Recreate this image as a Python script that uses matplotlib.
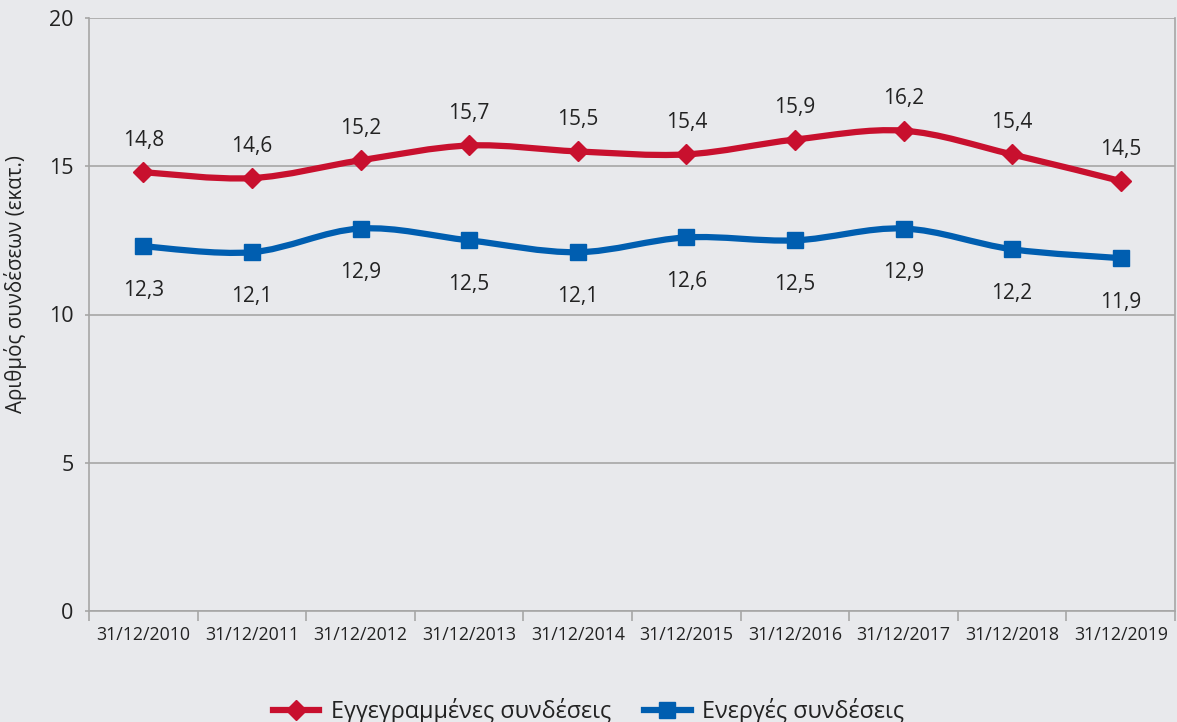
import numpy as np
import matplotlib.pyplot as plt
from matplotlib.path import Path
from matplotlib.patches import PathPatch
from matplotlib.lines import Line2D

plt.rcParams['font.family'] = ['Open Sans', 'DejaVu Sans']

dates = ['31/12/2010', '31/12/2011', '31/12/2012', '31/12/2013', '31/12/2014',
         '31/12/2015', '31/12/2016', '31/12/2017', '31/12/2018', '31/12/2019']
registered = [14.8, 14.6, 15.2, 15.7, 15.5, 15.4, 15.9, 16.2, 15.4, 14.5]
active = [12.3, 12.1, 12.9, 12.5, 12.1, 12.6, 12.5, 12.9, 12.2, 11.9]

red = '#C8102E'
blue = '#005EB0'
bg = '#E8E9EC'
grid = '#A6A6A6'
txt = '#222222'


def smooth_path(x, y, t=1/6):
    # excel-like smoothed line: bezier segments through the points
    x = np.asarray(x, float)
    y = np.asarray(y, float)
    verts = [(x[0], y[0])]
    codes = [Path.MOVETO]
    n = len(x)
    for i in range(n - 1):
        p0 = i - 1 if i > 0 else i
        p3 = i + 2 if i + 2 < n else i + 1
        c1 = (x[i] + (x[i + 1] - x[p0]) * t, y[i] + (y[i + 1] - y[p0]) * t)
        c2 = (x[i + 1] - (x[p3] - x[i]) * t, y[i + 1] - (y[p3] - y[i]) * t)
        verts += [c1, c2, (x[i + 1], y[i + 1])]
        codes += [Path.CURVE4] * 3
    return Path(verts, codes)


fig = plt.figure(figsize=(11.77, 7.22), dpi=100, facecolor=bg)
ax = fig.add_axes([89 / 1177, 1 - 611 / 722, 1086 / 1177, 593 / 722], facecolor=bg)

x = np.arange(len(dates))
for vals, col, mk, ms, off in [(registered, red, 'D', 10, 23), (active, blue, 's', 11, -32)]:
    ax.add_patch(PathPatch(smooth_path(x, vals), fill=False, edgecolor=col, lw=4.5,
                           capstyle='round', zorder=3))
    ax.plot(x, vals, linestyle='none', marker=mk, color=col, markersize=ms, zorder=4)
    for xi, v in zip(x, vals):
        ax.annotate(f'{v:.1f}'.replace('.', ','), (xi, v), xytext=(0, off),
                    textcoords='offset points', ha='center', va='center',
                    fontsize=15, color=txt)

ax.set_xlim(-0.5, len(dates) - 0.5)
ax.set_ylim(0, 20)
ax.set_yticks([0, 5, 10, 15, 20])
ax.set_yticklabels(['0', '5', '10', '15', '20'], fontsize=15.5, color=txt)
ax.set_xticks(x)
ax.set_xticklabels(dates, fontsize=12.8, color=txt)
ax.tick_params(axis='x', length=0, pad=11)
ax.set_xticks(np.arange(len(dates) + 1) - 0.5, minor=True)
ax.tick_params(axis='x', which='minor', length=7, color=grid, width=1.2)
ax.tick_params(axis='y', length=3, color=grid, width=1.2, pad=8)
ax.grid(axis='y', color=grid, lw=1.2)
ax.set_axisbelow(True)
for s in ['left', 'bottom', 'right']:
    ax.spines[s].set_color(grid)
    ax.spines[s].set_linewidth(1.2)
ax.spines['top'].set_visible(False)
fig.text(16 / 1177, 1 - 284 / 722, 'Αριθμός συνδέσεων (εκατ.)', rotation=90,
         ha='center', va='center', fontsize=14.8, color=txt)

handles = [Line2D([], [], color=red, lw=4.5, marker='D', markersize=10),
           Line2D([], [], color=blue, lw=4.5, marker='s', markersize=11)]
fig.legend(handles, ['Εγγεγραμμένες συνδέσεις', 'Ενεργές συνδέσεις'],
           loc='center', bbox_to_anchor=(0.5, 1 - 711 / 722), ncol=2, frameon=False,
           fontsize=16.8, handlelength=2.0, handletextpad=0.5, columnspacing=1.4,
           labelcolor=txt)

fig.savefig('out.png', dpi=100, facecolor=bg)
